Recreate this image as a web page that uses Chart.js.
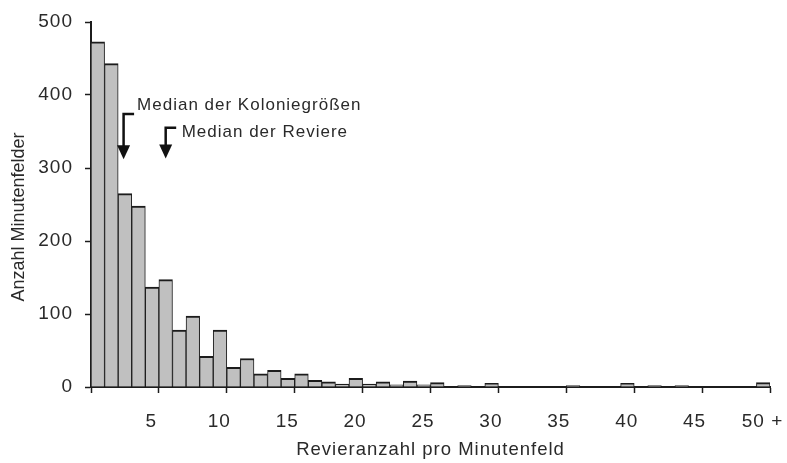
<!DOCTYPE html>
<html>
<head>
<meta charset="utf-8">
<script src="https://cdn.jsdelivr.net/npm/chart.js@4.4.1/dist/chart.umd.min.js"></script>
<style>
  html, body { margin: 0; padding: 0; background: #fff; }
  #wrap { width: 787px; height: 463px; position: relative; }
</style>
</head>
<body>
<div id="wrap"><canvas id="chart"></canvas></div>
<script>
// Häufigkeit der Revieranzahl pro Minutenfeld (Klassen 1 … 50+)
const categories = [1, 2, 3, 4, 5, 6, 7, 8, 9, 10,
                    11, 12, 13, 14, 15, 16, 17, 18, 19, 20,
                    21, 22, 23, 24, 25, 26, 27, 28, 29, 30,
                    31, 32, 33, 34, 35, 36, 37, 38, 39, 40,
                    41, 42, 43, 44, 45, 46, 47, 48, 49, 50];
const counts = [473, 443, 265, 248, 137, 147, 78, 97, 42, 78,
                27, 39, 18, 23, 12, 18, 9, 7, 4, 12,
                4, 7, 3, 8, 3, 6, 0, 2, 0, 5,
                0, 0, 0, 0, 0, 2, 0, 0, 0, 5,
                0, 2, 0, 2, 0, 0, 0, 0, 0, 6];
const yTicks = [0, 100, 200, 300, 400, 500];
const xTickLabels = ['', '5', '10', '15', '20', '25', '30', '35', '40', '45', '50 +'];
const xTitle = 'Revieranzahl pro Minutenfeld';
const yTitle = 'Anzahl Minutenfelder';
const medians = [
  { label: 'Median der Koloniegrößen', value: 2.4 },
  { label: 'Median der Reviere', value: 5.5 }
];

const FONT = "'Liberation Sans', Arial, sans-serif";
const INK = '#1c1c1c';
const TEXT = '#2a2a2a';

// each class k occupies the interval [k-1, k] on the linear x scale
const barData = categories.map((c, i) => ({ x: c - 0.5, y: counts[i] }));

const letterSpacing = {
  id: 'letterSpacing',
  beforeLayout(chart, args, opts) { chart.ctx.letterSpacing = opts.value; },
  beforeDraw(chart, args, opts) { chart.ctx.letterSpacing = opts.value; }
};

const medianArrows = {
  id: 'medianArrows',
  afterDatasetsDraw(chart, args, opts) {
    const { ctx, scales: { x, y } } = chart;
    ctx.save();
    opts.markers.forEach((m, i) => {
      const px = x.getPixelForValue(medians[i].value);
      const tip = y.getPixelForValue(m.tip);
      const head = tip - opts.headLength;
      const elbow = y.getPixelForValue(m.elbow);
      ctx.strokeStyle = opts.color;
      ctx.lineWidth = opts.lineWidth;
      ctx.lineJoin = 'miter';
      ctx.beginPath();
      ctx.moveTo(px + opts.elbowLength, elbow);
      ctx.lineTo(px, elbow);
      ctx.lineTo(px, head + 1);
      ctx.stroke();
      ctx.fillStyle = opts.color;
      ctx.beginPath();
      ctx.moveTo(px - opts.headHalfWidth, head);
      ctx.lineTo(px + opts.headHalfWidth, head);
      ctx.lineTo(px, tip);
      ctx.closePath();
      ctx.fill();
      ctx.font = opts.font;
      ctx.fillStyle = opts.textColor;
      ctx.textAlign = 'left';
      ctx.textBaseline = 'middle';
      ctx.fillText(medians[i].label, px + m.textDx, y.getPixelForValue(m.textY));
    });
    ctx.restore();
  }
};

const verticalTitle = {
  id: 'verticalTitle',
  afterDraw(chart, args, opts) {
    const { ctx, chartArea } = chart;
    ctx.save();
    ctx.letterSpacing = '0px';
    ctx.font = opts.font;
    ctx.fillStyle = opts.color;
    ctx.translate(opts.x, (chartArea.top + chartArea.bottom) / 2 + opts.shift);
    ctx.rotate(-Math.PI / 2);
    ctx.textAlign = 'center';
    ctx.textBaseline = 'middle';
    ctx.fillText(yTitle, 0, 0);
    ctx.restore();
  }
};

new Chart(document.getElementById('chart'), {
  type: 'bar',
  data: {
    datasets: [{
      data: barData,
      backgroundColor: '#c0c0c0',
      borderColor: INK,
      borderWidth: { top: 2, left: 1, right: 1, bottom: 0 },
      borderSkipped: false,
      barPercentage: 1,
      categoryPercentage: 1
    }]
  },
  options: {
    responsive: true,
    maintainAspectRatio: false,
    animation: false,
    layout: { padding: { left: 0, top: 22, right: 17, bottom: 0 } },
    plugins: {
      legend: { display: false },
      tooltip: { enabled: false },
      letterSpacing: { value: '1px' },
      medianArrows: {
        color: '#111111',
        textColor: TEXT,
        lineWidth: 2.5,
        headLength: 14,
        headHalfWidth: 6.5,
        elbowLength: 10.5,
        font: "17px " + FONT,
        markers: [
          { tip: 312, elbow: 374, textY: 386, textDx: 13.5 },
          { tip: 313, elbow: 355, textY: 349, textDx: 16 }
        ]
      },
      verticalTitle: { font: "18px " + FONT, color: TEXT, x: 19.5, shift: 12.5 }
    },
    scales: {
      x: {
        type: 'linear',
        min: 0,
        max: 50,
        offset: false,
        afterFit(scale) { scale.height = 76; scale.paddingLeft = 0; scale.paddingRight = 0; },
        afterBuildTicks(scale) { scale.ticks = xTickLabels.map((_, i) => ({ value: i * 5 })); },
        grid: {
          offset: false,
          drawOnChartArea: false,
          drawTicks: true,
          tickLength: 6,
          tickColor: INK,
          tickWidth: 1.5
        },
        border: { display: true, color: INK, width: 2 },
        ticks: {
          autoSkip: false,
          maxRotation: 0,
          padding: 17,
          labelOffset: -7.5,
          color: TEXT,
          font: { family: FONT, size: 19 },
          callback: (v) => xTickLabels[Math.round(v / 5)]
        },
        title: {
          display: true,
          text: xTitle,
          color: TEXT,
          font: { family: FONT, size: 18.5 },
          padding: { top: 0, bottom: 2 }
        }
      },
      y: {
        min: 0,
        max: 500,
        afterFit(scale) { scale.width = 91; scale.paddingTop = 0; scale.paddingBottom = 0; },
        afterBuildTicks(scale) { scale.ticks = yTicks.map(v => ({ value: v })); },
        grid: {
          drawOnChartArea: false,
          drawTicks: true,
          tickLength: 6,
          tickColor: INK,
          tickWidth: 1.5
        },
        border: { display: true, color: INK, width: 2 },
        ticks: {
          padding: 12,
          color: TEXT,
          font: { family: FONT, size: 19 }
        }
      }
    }
  },
  plugins: [letterSpacing, medianArrows, verticalTitle]
});
</script>
</body>
</html>
